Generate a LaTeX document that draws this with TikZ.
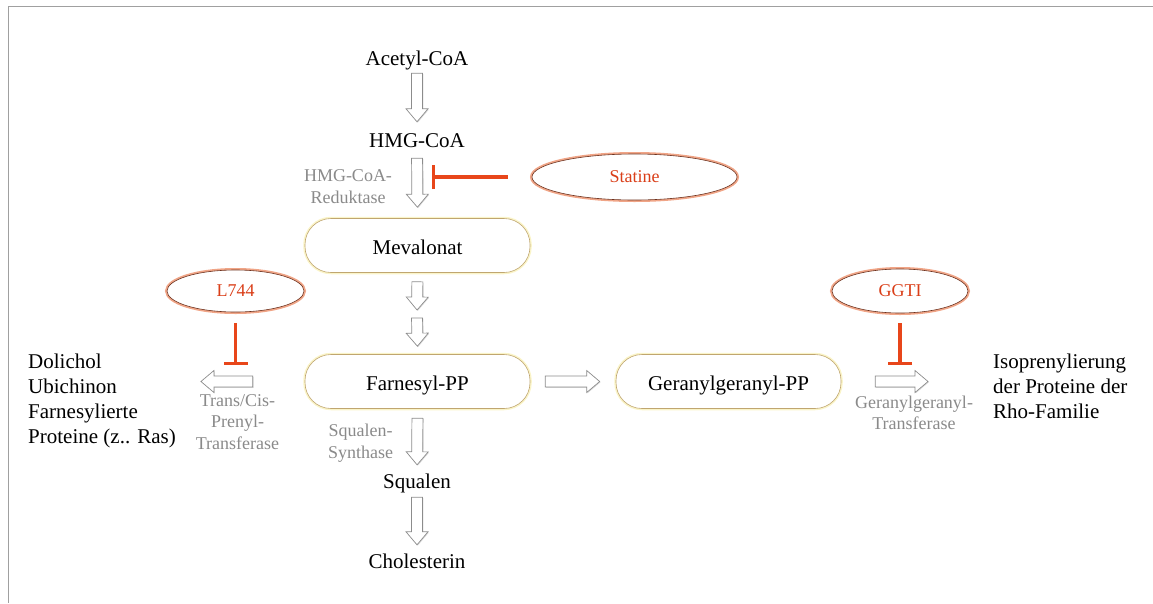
\documentclass[tikz,border=0pt]{standalone}
\usepackage{fontspec}
\setmainfont{Liberation Serif}
\usetikzlibrary{arrows.meta,positioning,calc,shapes.geometric,shadows}
\definecolor{pwgray}{RGB}{138,138,138}
\definecolor{pwframe}{RGB}{160,160,160}
\definecolor{pwred}{RGB}{218,62,24}
\definecolor{pwinhib}{RGB}{232,70,26}
\definecolor{pwrim}{RGB}{240,165,135}
\definecolor{pwdark}{RGB}{110,50,30}
\definecolor{pwgold}{RGB}{192,166,112}
\definecolor{pwglow}{RGB}{250,244,200}
\newcommand{\metfont}{\fontsize{21}{25}\selectfont}
\newcommand{\enzfont}{\fontsize{18}{21.5}\selectfont}
% hollow block arrow: from, to, gap at the tail, gap at the tip
\newcommand{\fatarrow}[4]{%
  \filldraw[fatarrow] let \p1=($(#1)!#3!(#2)$), \p2=($(#2)!#4!(#1)$),
      \p3=($(\p2)!13pt!(\p1)$) in
    ($(\p1)!5.5pt!90:(\p2)$) -- ($(\p3)!5.5pt!90:(\p2)$) -- ($(\p3)!11pt!90:(\p2)$)
    -- (\p2) -- ($(\p3)!11pt!-90:(\p2)$) -- ($(\p3)!5.5pt!-90:(\p2)$)
    -- ($(\p1)!5.5pt!-90:(\p2)$) -- cycle;}
\tikzset{
  metab/.style={font=\metfont, inner sep=0pt, text height=14pt, text depth=4.5pt},
  sideline/.style={font=\metfont, align=left, inner sep=0pt},
  enzyme/.style={font=\enzfont, text=pwgray, align=center, inner sep=0pt},
  poolbox/.style={draw=pwgold, line width=0.6pt, fill=white, rounded corners=26pt,
                  minimum width=225pt, minimum height=54pt, font=\metfont,
                  text height=18pt, text depth=0pt,
                  preaction={draw=pwglow, line width=3.5pt}},
  drug/.style={ellipse, draw=pwdark, line width=0.6pt, fill=white, inner sep=0pt,
               font=\enzfont, text=pwred, preaction={draw=pwrim, line width=4pt}},
  inhibit/.style={draw=pwinhib, line width=3.4pt, -{Bar[width=24pt]}},
  fatarrow/.style={draw=gray!90, fill=white, line width=0.7pt,
                   drop shadow={shadow xshift=0.8pt, shadow yshift=-0.8pt, opacity=0.3}},
  frameline/.style={draw=pwframe, line width=1.6pt},
}

\begin{document}
\begin{tikzpicture}[x=1pt, y=1pt]
\useasboundingbox (0,0) rectangle (1153,-603);
\draw[frameline] (1153,-6.5) -- (8.5,-6.5) -- (8.5,-603);

% ============================ main column ============================
\node[metab] (acetyl) at (417,-60.25) {Acetyl-CoA};
\node[metab] (hmg) at (417,-142.25) {HMG-CoA};
\node[poolbox] (meva) at (417.5,-245.5) {Mevalonat};
\coordinate (ipp) at (417,-314);
\node[poolbox] (farn) at (417.5,-381.5) {Farnesyl-PP};
\node[metab] (squalen) at (417,-483.25) {Squalen};
\node[metab] (chol) at (417,-563.25) {Cholesterin};

\node[enzyme] (reduktase) at (348,-186.5) {HMG-CoA-\\Reduktase};
\node[enzyme] (sqsynth) at (360.5,-443.3) {Squalen-\\Synthase};

% ============================ side branches ==========================
\node[poolbox] (gg) at (728.5,-381.5) {Geranylgeranyl-PP};
\node[sideline, anchor=west] (dolichol) at (28,-400.6)
  {Dolichol\\Ubichinon\\Farnesylierte\\Proteine (z.. Ras)};
\node[sideline, anchor=west] (rho) at (993,-386.4)
  {Isoprenylierung\\der Proteine der\\Rho-Familie};
\node[enzyme] (prenyltr) at (237.5,-422) {Trans/Cis-\\Prenyl-\\Transferase};
\node[enzyme] (ggtr) at (914,-412.9) {Geranylgeranyl-\\Transferase};

% ============================ inhibitors =============================
\node[drug, minimum width=205pt, minimum height=46pt] (statine) at (634.5,-177) {Statine};
\node[drug, minimum width=137pt, minimum height=42pt] (l744) at (235.5,-291) {L744};
\node[drug, minimum width=136pt, minimum height=44pt] (ggti) at (900,-291) {GGTI};

% pathway steps
\fatarrow{acetyl.south}{hmg.north}{3.5pt}{11pt}
\fatarrow{hmg.south}{meva.north}{6.5pt}{11pt}
\fatarrow{meva.south}{ipp}{9pt}{4pt}
\fatarrow{ipp}{farn.north}{4pt}{8pt}
\fatarrow{farn.south}{squalen.north}{9.5pt}{9pt}
\fatarrow{squalen.south}{chol.north}{4.5pt}{9pt}
\fatarrow{farn.east}{gg.west}{15pt}{16pt}
\fatarrow{farn.west}{farn.west -| dolichol.east}{52pt}{25pt}
\fatarrow{gg.east}{gg.east -| rho.west}{34pt}{65pt}

% blocked enzymes
\coordinate (redblock) at ($(statine.west)+(-100pt,0)$);
\coordinate (prenblock) at ($(l744.south)+(0,-53pt)$);
\coordinate (ggblock) at ($(ggti.south)+(0,-52pt)$);
\draw[inhibit, shorten <=24pt] (statine.west) -- (redblock);
\draw[inhibit, shorten <=11pt] (l744.south) -- (prenblock);
\draw[inhibit, shorten <=10pt] (ggti.south) -- (ggblock);

\end{tikzpicture}
\end{document}
